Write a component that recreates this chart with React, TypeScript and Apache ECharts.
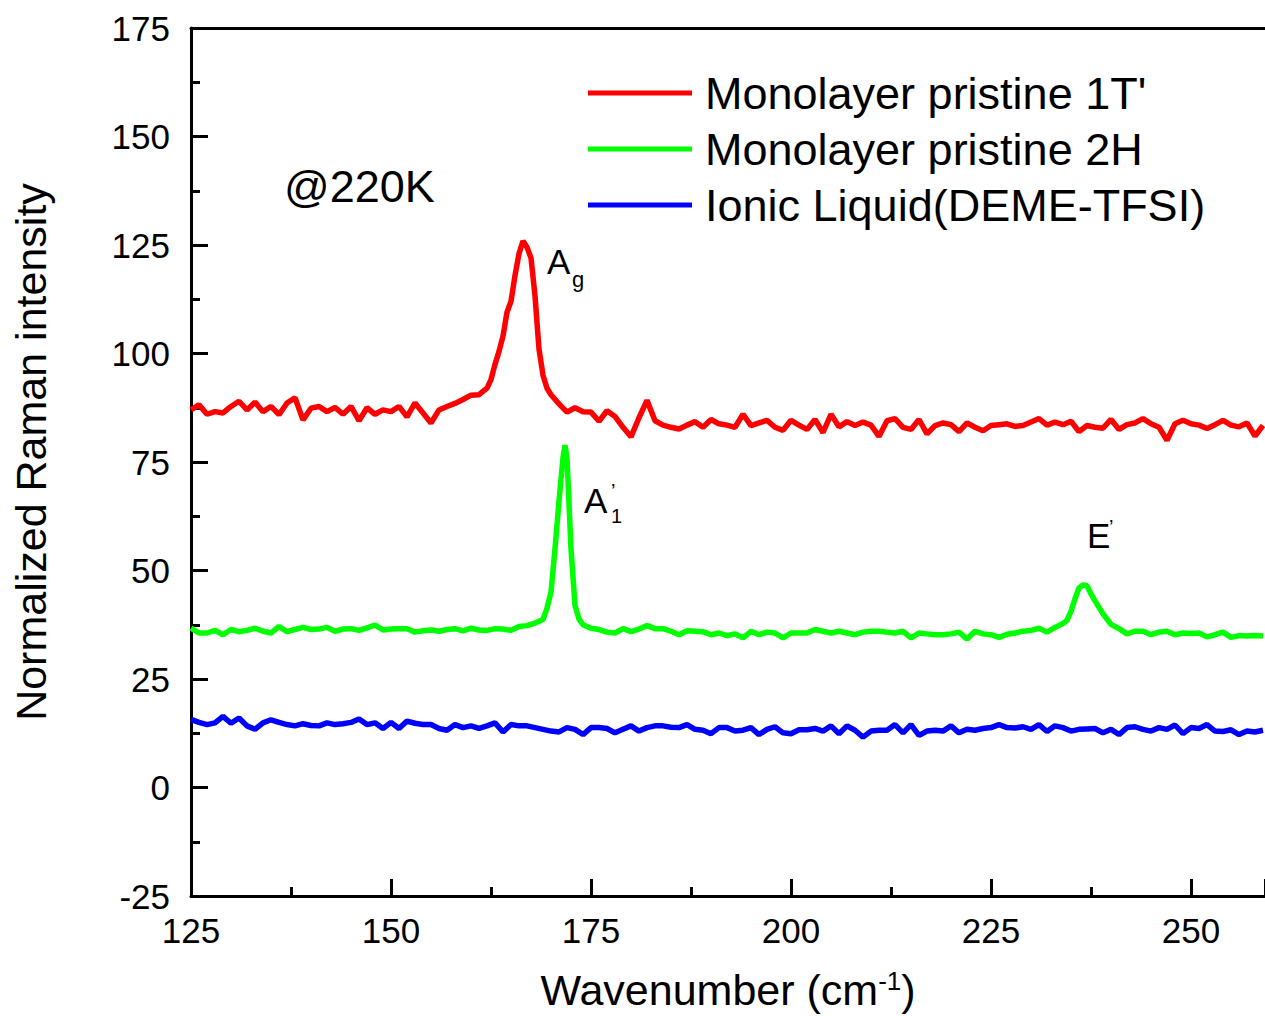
import React, { useEffect, useRef } from "react";
import * as echarts from "echarts";

const FONT = "'Liberation Sans', Arial, sans-serif";

const seriesNames = ["Monolayer pristine 1T'", "Monolayer pristine 2H", "Ionic Liquid(DEME-TFSI)"];
const seriesColors = ["#ff0000", "#00ff00", "#0000ff"];

const xTicks = [125, 150, 175, 200, 225, 250];
const yTicks = [-25, 0, 25, 50, 75, 100, 125, 150, 175];

// Monolayer pristine 1T' : [wavenumber, intensity]
const red1T = [
  [125, 87.0], [126, 88.2], [127, 86.0], [128, 86.6], [129, 86.3], [130, 87.8], [131, 89.0], [132, 87.0],
  [133, 88.8], [134, 86.6], [135, 87.8], [136, 85.9], [137, 88.6], [138, 89.8], [139, 84.7], [140, 87.4],
  [141, 87.8], [142, 86.6], [143, 87.6], [144, 86.0], [145, 87.8], [146, 84.5], [147, 87.5], [148, 86.0],
  [149, 87.0], [150, 86.6], [151, 87.8], [152, 85.4], [153, 88.6], [154, 86.3], [155, 84.0], [156, 87.0],
  [157, 87.8], [158, 88.5], [159, 89.4], [160, 90.4], [161, 90.5], [162, 92.0], [162.5, 94.0], [163, 97.5],
  [163.5, 100.5], [164, 104.0], [164.5, 109.5], [165, 112.0], [165.5, 118.0], [166, 123.0], [166.5, 125.9],
  [167, 124.5], [167.5, 122.0], [168, 113.3], [168.5, 101.0], [169, 95.0], [169.5, 92.0], [170, 90.5],
  [171, 88.4], [172, 86.5], [173, 87.5], [174, 86.6], [175, 86.5], [176, 84.4], [177, 86.8], [178, 85.5],
  [179, 83.0], [180, 80.8], [181, 85.2], [182, 89.2], [183, 84.5], [184, 83.5], [185, 83.0], [186, 82.6],
  [187, 83.5], [188, 84.3], [189, 83.0], [190, 84.8], [191, 83.8], [192, 83.5], [193, 83.0], [194, 86.0],
  [195, 83.4], [196, 84.0], [197, 84.6], [198, 83.0], [199, 82.3], [200, 84.6], [201, 83.5], [202, 82.5],
  [203, 84.8], [204, 81.8], [205, 86.0], [206, 83.1], [207, 84.3], [208, 83.4], [209, 84.2], [210, 83.5],
  [211, 80.9], [212, 84.5], [213, 85.0], [214, 83.0], [215, 82.5], [216, 84.8], [217, 81.5], [218, 83.4],
  [219, 84.0], [220, 83.6], [221, 82.0], [222, 84.0], [223, 83.0], [224, 82.2], [225, 83.4], [226, 83.6],
  [227, 83.8], [228, 83.2], [229, 83.4], [230, 84.2], [231, 85.0], [232, 83.5], [233, 84.2], [234, 83.6],
  [235, 84.4], [236, 82.0], [237, 83.4], [238, 83.0], [239, 82.8], [240, 84.8], [241, 82.5], [242, 83.6],
  [243, 84.0], [244, 85.0], [245, 83.8], [246, 83.0], [247, 80.0], [248, 83.8], [249, 84.6], [250, 83.8],
  [251, 83.5], [252, 82.7], [253, 83.6], [254, 84.6], [255, 83.5], [256, 83.1], [257, 84.0], [258, 81.0],
  [259, 83.4],
];

// Monolayer pristine 2H
const green2H = [
  [125, 36.7], [126, 35.6], [127, 35.6], [128, 36.2], [129, 35.2], [130, 36.4], [131, 35.9], [132, 36.2],
  [133, 36.7], [134, 36.0], [135, 35.6], [136, 37.1], [137, 35.9], [138, 36.4], [139, 36.9], [140, 36.4],
  [141, 36.5], [142, 36.9], [143, 36.0], [144, 36.5], [145, 36.6], [146, 36.2], [147, 36.8], [148, 37.4],
  [149, 36.3], [150, 36.5], [151, 36.6], [152, 36.6], [153, 35.8], [154, 36.1], [155, 36.3], [156, 36.0],
  [157, 36.4], [158, 36.6], [159, 36.1], [160, 36.7], [161, 36.3], [162, 36.2], [163, 36.6], [164, 36.5],
  [165, 36.2], [166, 37.1], [167, 37.3], [168, 37.9], [169, 38.7], [169.5, 41.3], [170, 45.0], [170.5, 55.0],
  [171, 66.0], [171.5, 76.0], [171.75, 78.9], [172, 76.0], [172.5, 55.0], [173, 42.0], [173.5, 38.8],
  [174, 37.5], [175, 36.7], [176, 36.4], [177, 35.8], [178, 35.6], [179, 36.6], [180, 35.9], [181, 36.5],
  [182, 37.3], [183, 36.6], [184, 36.6], [185, 36.0], [186, 35.2], [187, 36.1], [188, 36.0], [189, 35.9],
  [190, 35.2], [191, 35.6], [192, 35.0], [193, 35.4], [194, 34.5], [195, 36.0], [196, 35.2], [197, 35.8],
  [198, 35.6], [199, 34.5], [200, 35.6], [201, 35.6], [202, 35.6], [203, 36.4], [204, 36.0], [205, 35.6],
  [206, 36.0], [207, 35.6], [208, 35.2], [209, 35.8], [210, 36.0], [211, 36.0], [212, 35.8], [213, 35.6],
  [214, 36.0], [215, 34.5], [216, 35.6], [217, 35.4], [218, 35.2], [219, 35.2], [220, 35.4], [221, 35.8],
  [222, 34.2], [223, 36.0], [224, 35.4], [225, 35.2], [226, 34.6], [227, 35.3], [228, 35.6], [229, 36.0],
  [230, 36.2], [231, 36.7], [232, 35.8], [233, 36.9], [234, 37.8], [234.5, 38.5], [235, 40.6], [235.5, 43.5],
  [236, 46.0], [236.5, 46.7], [237, 46.5], [237.5, 44.6], [238, 43.0], [238.5, 41.5], [239, 40.0],
  [239.5, 38.8], [240, 37.6], [241, 36.6], [242, 35.4], [243, 36.0], [244, 36.0], [245, 35.2], [246, 35.8],
  [247, 36.0], [248, 35.2], [249, 35.6], [250, 35.5], [251, 35.6], [252, 34.7], [253, 35.2], [254, 35.8],
  [255, 34.6], [256, 35.0], [257, 34.9], [258, 35.0], [259, 34.9],
];

// Ionic Liquid (DEME-TFSI)
const blueIL = [
  [125, 15.7], [126, 15.0], [127, 14.5], [128, 14.9], [129, 16.4], [130, 14.8], [131, 16.0], [132, 14.2],
  [133, 13.4], [134, 14.9], [135, 15.6], [136, 15.0], [137, 14.5], [138, 14.2], [139, 14.7], [140, 14.3],
  [141, 14.2], [142, 14.9], [143, 14.5], [144, 14.7], [145, 15.0], [146, 15.8], [147, 14.5], [148, 14.9],
  [149, 13.6], [150, 15.0], [151, 13.6], [152, 15.3], [153, 14.8], [154, 14.5], [155, 14.5], [156, 13.6],
  [157, 13.2], [158, 14.5], [159, 13.8], [160, 14.2], [161, 13.6], [162, 14.2], [163, 14.9], [164, 12.8],
  [165, 14.5], [166, 14.2], [167, 14.2], [168, 13.8], [169, 13.4], [170, 13.0], [171, 12.8], [172, 13.8],
  [173, 13.4], [174, 12.2], [175, 13.8], [176, 13.8], [177, 13.6], [178, 12.6], [179, 13.4], [180, 14.2],
  [181, 13.0], [182, 13.8], [183, 14.2], [184, 14.2], [185, 13.9], [186, 13.8], [187, 14.5], [188, 13.4],
  [189, 13.2], [190, 12.4], [191, 13.8], [192, 13.8], [193, 13.0], [194, 13.2], [195, 13.8], [196, 12.2],
  [197, 13.4], [198, 14.0], [199, 12.6], [200, 12.4], [201, 13.3], [202, 13.3], [203, 13.6], [204, 13.0],
  [205, 14.2], [206, 12.4], [207, 14.2], [208, 13.2], [209, 11.6], [210, 13.0], [211, 13.2], [212, 13.2],
  [213, 14.5], [214, 12.6], [215, 14.5], [216, 12.0], [217, 13.0], [218, 13.2], [219, 13.0], [220, 14.2],
  [221, 12.6], [222, 13.4], [223, 13.2], [224, 13.6], [225, 13.8], [226, 14.5], [227, 13.8], [228, 13.7],
  [229, 14.0], [230, 13.4], [231, 14.5], [232, 12.9], [233, 14.2], [234, 13.8], [235, 13.0], [236, 13.4],
  [237, 13.5], [238, 13.6], [239, 12.6], [240, 13.4], [241, 12.2], [242, 13.8], [243, 14.0], [244, 13.4],
  [245, 13.0], [246, 13.8], [247, 13.4], [248, 14.4], [249, 12.4], [250, 13.8], [251, 13.6], [252, 14.5],
  [253, 13.0], [254, 12.9], [255, 13.3], [256, 12.2], [257, 13.0], [258, 12.8], [259, 13.2],
];

const allSeries = [red1T, green2H, blueIL];

const X_MIN = xTicks[0];
const X_MAX = 259.25;
const Y_MIN = yTicks[0];
const Y_MAX = yTicks[yTicks.length - 1];

function buildOption() {
  const axisLineStyle = { color: "#000", width: 3 };
  return {
    animation: false,
    backgroundColor: "#fff",
    textStyle: { fontFamily: FONT },
    grid: { left: 191, top: 28, right: 0, bottom: 117, containLabel: false },
    legend: {
      orient: "vertical",
      left: 588,
      top: 69,
      padding: 0,
      itemWidth: 104,
      itemHeight: 5,
      itemGap: 8,
      icon: "rect",
      data: seriesNames,
      textStyle: { fontSize: 45, lineHeight: 48, color: "#000", fontFamily: FONT, padding: [0, 0, 0, 8] },
    },
    xAxis: [
      {
        type: "value",
        min: X_MIN,
        max: X_MAX,
        interval: 25,
        position: "bottom",
        axisLine: { show: true, onZero: false, lineStyle: axisLineStyle },
        axisTick: { show: true, inside: true, length: 17, lineStyle: { color: "#000", width: 3 } },
        minorTick: { show: true, splitNumber: 2, length: 9, lineStyle: { color: "#000", width: 3 } },
        splitLine: { show: false },
        axisLabel: {
          margin: 17,
          fontSize: 35,
          color: "#000",
          fontFamily: FONT,
          showMaxLabel: false,
          formatter: (v: number) => (xTicks.indexOf(v) >= 0 ? String(v) : ""),
        },
        name: "Wavenumber (cm{sup|-1})",
        nameLocation: "middle",
        nameGap: 72,
        nameTextStyle: {
          fontSize: 43,
          color: "#000",
          fontFamily: FONT,
          rich: {
            sup: { fontSize: 26, color: "#000", fontFamily: FONT, verticalAlign: "top", lineHeight: 26 },
          },
        },
      },
      {
        type: "value",
        min: X_MIN,
        max: X_MAX,
        position: "top",
        axisLine: { show: true, onZero: false, lineStyle: axisLineStyle },
        axisTick: { show: false },
        axisLabel: { show: false },
        splitLine: { show: false },
      },
    ],
    yAxis: {
      type: "value",
      min: Y_MIN,
      max: Y_MAX,
      interval: 25,
      axisLine: { show: true, onZero: false, lineStyle: axisLineStyle },
      axisTick: { show: true, inside: true, length: 17, lineStyle: { color: "#000", width: 3 } },
      minorTick: { show: true, splitNumber: 2, length: 9, lineStyle: { color: "#000", width: 3 } },
      splitLine: { show: false },
      axisLabel: { margin: 21, fontSize: 35, color: "#000", fontFamily: FONT },
    },
    series: allSeries.map((d, i) => ({
      name: seriesNames[i],
      type: "line",
      data: d,
      showSymbol: false,
      symbol: "none",
      color: seriesColors[i],
      lineStyle: { color: seriesColors[i], width: 5.5 },
      z: 3 - i,
    })),
    graphic: [
      {
        type: "text",
        x: 31,
        y: 452,
        rotation: Math.PI / 2,
        style: {
          text: "Normalized Raman intensity",
          fontSize: 43,
          fontFamily: FONT,
          fill: "#000",
          align: "center",
          verticalAlign: "middle",
        },
      },
      {
        type: "text",
        x: 284,
        y: 186,
        style: { text: "@220K", fontSize: 45, fontFamily: FONT, fill: "#000", align: "left", verticalAlign: "middle" },
      },
      {
        type: "text",
        x: 547,
        y: 261,
        style: { text: "A", fontSize: 35, fontFamily: FONT, fill: "#000", align: "left", verticalAlign: "middle" },
      },
      {
        type: "text",
        x: 572,
        y: 279,
        style: { text: "g", fontSize: 22, fontFamily: FONT, fill: "#000", align: "left", verticalAlign: "middle" },
      },
      {
        type: "text",
        x: 584,
        y: 500,
        style: { text: "A", fontSize: 35, fontFamily: FONT, fill: "#000", align: "left", verticalAlign: "middle" },
      },
      {
        type: "text",
        x: 611,
        y: 491,
        style: { text: "’", fontSize: 20, fontFamily: FONT, fill: "#000", align: "left", verticalAlign: "middle" },
      },
      {
        type: "text",
        x: 611,
        y: 516,
        style: { text: "1", fontSize: 20, fontFamily: FONT, fill: "#000", align: "left", verticalAlign: "middle" },
      },
      {
        type: "text",
        x: 1087,
        y: 535,
        style: { text: "E", fontSize: 35, fontFamily: FONT, fill: "#000", align: "left", verticalAlign: "middle" },
      },
      {
        type: "text",
        x: 1109,
        y: 527,
        style: { text: "’", fontSize: 20, fontFamily: FONT, fill: "#000", align: "left", verticalAlign: "middle" },
      },
    ],
  };
}

export default function App() {
  const ref = useRef<HTMLDivElement>(null);
  useEffect(() => {
    if (!ref.current) return;
    const chart = echarts.init(ref.current, null, { renderer: "svg" });
    chart.setOption(buildOption() as any);
    return () => chart.dispose();
  }, []);
  return (
    <div
      ref={ref}
      style={{ position: "absolute", left: 0, top: 0, width: 1265, height: 1016, background: "#fff" }}
    />
  );
}
